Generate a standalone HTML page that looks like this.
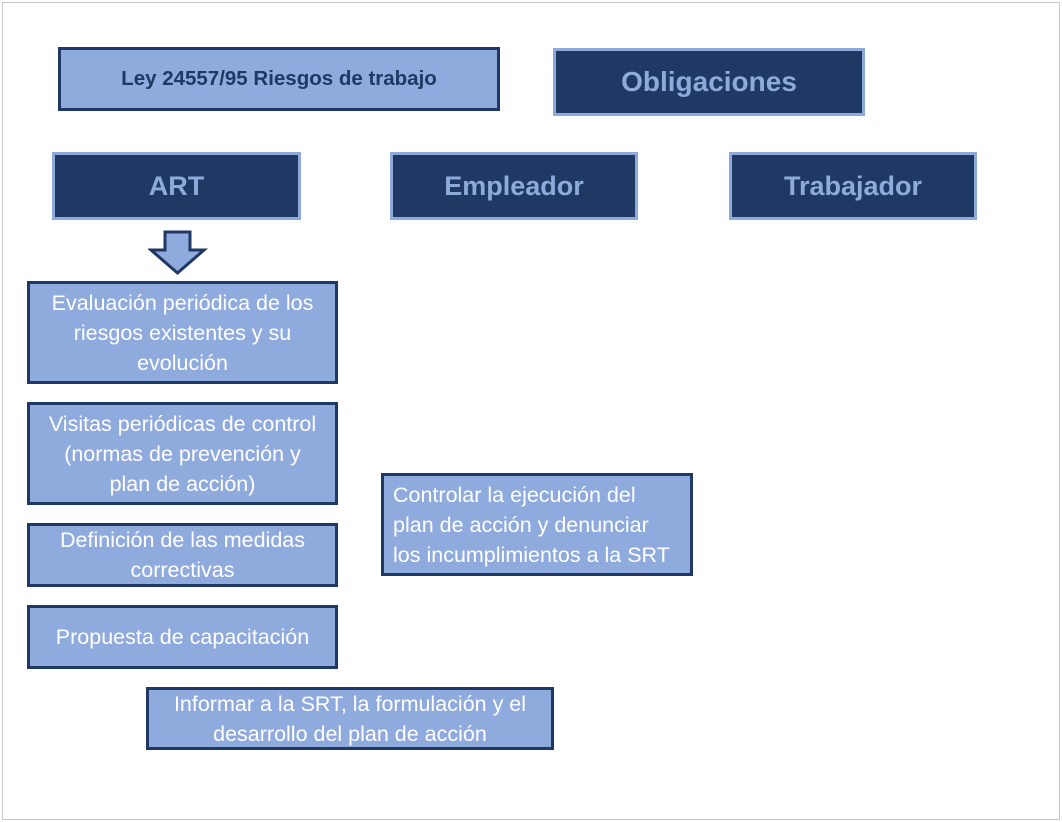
<!DOCTYPE html>
<html><head><meta charset="utf-8"><style>
*{margin:0;padding:0;box-sizing:border-box}
body{width:1062px;height:822px;background:#fff;position:relative;overflow:hidden;font-family:"Liberation Sans",sans-serif}
.frame{position:absolute;left:2px;top:2px;width:1058px;height:818px;border:1px solid #c8c8c8}
.b{position:absolute;display:flex;align-items:center;justify-content:center;text-align:center;white-space:nowrap}
.d{background:#1f3864;border:3px solid #8eaadb;color:#8eaadb;font-weight:bold;font-size:27px}
.l{background:#8faadc;border:3px solid #1f3864;color:#fff;font-size:21.5px;line-height:30px}
</style></head><body>
<div class="frame"></div>
<div class="b l" style="left:58px;top:47px;width:442px;height:64px;color:#1f3864;font-weight:bold;font-size:20.5px">Ley 24557/95 Riesgos de trabajo</div>
<div class="b d" style="left:553px;top:48px;width:312px;height:68px;font-size:28px">Obligaciones</div>
<div class="b d" style="left:52px;top:152px;width:249px;height:68px">ART</div>
<div class="b d" style="left:390px;top:152px;width:248px;height:68px">Empleador</div>
<div class="b d" style="left:729px;top:152px;width:248px;height:68px">Trabajador</div>
<svg style="position:absolute;left:148px;top:230px" width="60" height="46"><polygon points="17,2 42,2 42,20 56,20 29.5,43 3,20 17,20" fill="#8faadc" stroke="#1f3864" stroke-width="3"/></svg>
<div class="b l" style="left:27px;top:281px;width:311px;height:103px">Evaluación periódica de los<br>riesgos existentes y su<br>evolución</div>
<div class="b l" style="left:27px;top:402px;width:311px;height:103px">Visitas periódicas de control<br>(normas de prevención y<br>plan de acción)</div>
<div class="b l" style="left:27px;top:523px;width:311px;height:64px">Definición de las medidas<br>correctivas</div>
<div class="b l" style="left:27px;top:605px;width:311px;height:64px">Propuesta de capacitación</div>
<div class="b l" style="left:146px;top:687px;width:408px;height:63px">Informar a la SRT, la formulación y el<br>desarrollo del plan de acción</div>
<div class="b l" style="left:381px;top:473px;width:312px;height:103px;justify-content:flex-start;text-align:left;padding-left:9px">Controlar la ejecución del<br>plan de acción y denunciar<br>los incumplimientos a la SRT</div>
</body></html>
